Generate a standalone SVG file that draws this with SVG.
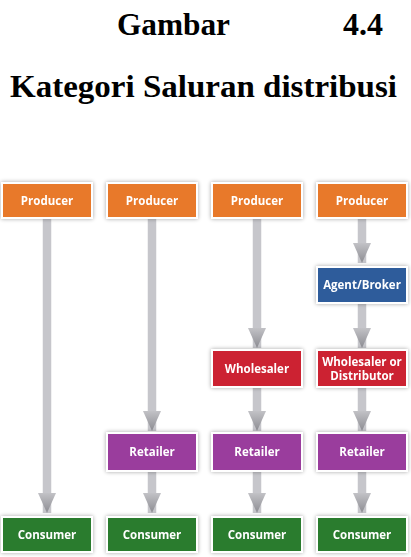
<svg xmlns="http://www.w3.org/2000/svg" width="411" height="557" viewBox="0 0 411 557">
<defs>
<style>
.title{font-family:"Liberation Serif","Times New Roman",serif;font-weight:bold;font-size:31px;fill:#000}
.box{stroke:#fff;stroke-width:2}
.lbl{font-family:"Open Sans","DejaVu Sans",sans-serif;font-weight:bold;font-size:11.5px;fill:#fff;text-anchor:middle}
.conn{stroke:#c6c6cb;stroke-width:8.5;fill:none}
.prod{fill:#e8792b}
.agent{fill:#2f5b9b}
.whole{fill:#cc2131}
.ret{fill:#9a3d9d}
.cons{fill:#2b7b2e}
</style>
<linearGradient id="ag" x1="0" y1="0" x2="1" y2="0">
<stop offset="0" stop-color="#c2c2c6"/>
<stop offset="1" stop-color="#8c8c92"/>
</linearGradient>
<marker id="arr" markerUnits="userSpaceOnUse" markerWidth="20" markerHeight="20" refX="20" refY="10" orient="auto" viewBox="0 0 20 20">
<path d="M0,1 L20,10 L0,19 z" fill="url(#ag)"/>
</marker>
<filter id="sh" x="-20%" y="-30%" width="140%" height="160%">
<feGaussianBlur in="SourceAlpha" stdDeviation="2"/>
<feComponentTransfer><feFuncA type="linear" slope="0.35"/></feComponentTransfer>
<feMerge><feMergeNode/><feMergeNode in="SourceGraphic"/></feMerge>
</filter>
</defs>
<rect width="411" height="557" fill="#fff"/>
<text class="title" x="117" y="35" textLength="113" lengthAdjust="spacingAndGlyphs">Gambar</text>
<text class="title" x="343" y="35" textLength="40" lengthAdjust="spacingAndGlyphs">4.4</text>
<text class="title" x="10" y="97" textLength="387" lengthAdjust="spacingAndGlyphs">Kategori Saluran distribusi</text>
<g id="connectors">
<line class="conn" x1="47" y1="218" x2="47" y2="513" marker-end="url(#arr)"/>
<line class="conn" x1="152" y1="218" x2="152" y2="431" marker-end="url(#arr)"/>
<line class="conn" x1="152" y1="471" x2="152" y2="513" marker-end="url(#arr)"/>
<line class="conn" x1="257" y1="218" x2="257" y2="348" marker-end="url(#arr)"/>
<line class="conn" x1="257" y1="387" x2="257" y2="431" marker-end="url(#arr)"/>
<line class="conn" x1="257" y1="471" x2="257" y2="513" marker-end="url(#arr)"/>
<line class="conn" x1="362" y1="218" x2="362" y2="263" marker-end="url(#arr)"/>
<line class="conn" x1="362" y1="303" x2="362" y2="348" marker-end="url(#arr)"/>
<line class="conn" x1="362" y1="387" x2="362" y2="431" marker-end="url(#arr)"/>
<line class="conn" x1="362" y1="471" x2="362" y2="513" marker-end="url(#arr)"/>
</g>
<g id="producer1" filter="url(#sh)"><rect class="box prod" x="2" y="183" width="90" height="35"/><text class="lbl" x="47" y="204.5">Producer</text></g>
<g id="producer2" filter="url(#sh)"><rect class="box prod" x="107" y="183" width="90" height="35"/><text class="lbl" x="152" y="204.5">Producer</text></g>
<g id="producer3" filter="url(#sh)"><rect class="box prod" x="212" y="183" width="90" height="35"/><text class="lbl" x="257" y="204.5">Producer</text></g>
<g id="producer4" filter="url(#sh)"><rect class="box prod" x="317" y="183" width="90" height="35"/><text class="lbl" x="362" y="204.5">Producer</text></g>
<g id="agent" filter="url(#sh)"><rect class="box agent" x="317" y="267" width="90" height="36"/><text class="lbl" x="362" y="289">Agent/Broker</text></g>
<g id="wholesaler" filter="url(#sh)"><rect class="box whole" x="212" y="350" width="90" height="37"/><text class="lbl" x="257" y="372.5">Wholesaler</text></g>
<g id="distributor" filter="url(#sh)"><rect class="box whole" x="317" y="350" width="90" height="37"/><text class="lbl" x="362" y="366">Wholesaler or</text><text class="lbl" x="362" y="380">Distributor</text></g>
<g id="retailer2" filter="url(#sh)"><rect class="box ret" x="107" y="433" width="90" height="38"/><text class="lbl" x="152" y="456">Retailer</text></g>
<g id="retailer3" filter="url(#sh)"><rect class="box ret" x="212" y="433" width="90" height="38"/><text class="lbl" x="257" y="456">Retailer</text></g>
<g id="retailer4" filter="url(#sh)"><rect class="box ret" x="317" y="433" width="90" height="38"/><text class="lbl" x="362" y="456">Retailer</text></g>
<g id="consumer1" filter="url(#sh)"><rect class="box cons" x="2" y="517" width="90" height="35"/><text class="lbl" x="47" y="538.5">Consumer</text></g>
<g id="consumer2" filter="url(#sh)"><rect class="box cons" x="107" y="517" width="90" height="35"/><text class="lbl" x="152" y="538.5">Consumer</text></g>
<g id="consumer3" filter="url(#sh)"><rect class="box cons" x="212" y="517" width="90" height="35"/><text class="lbl" x="257" y="538.5">Consumer</text></g>
<g id="consumer4" filter="url(#sh)"><rect class="box cons" x="317" y="517" width="90" height="35"/><text class="lbl" x="362" y="538.5">Consumer</text></g>
</svg>
